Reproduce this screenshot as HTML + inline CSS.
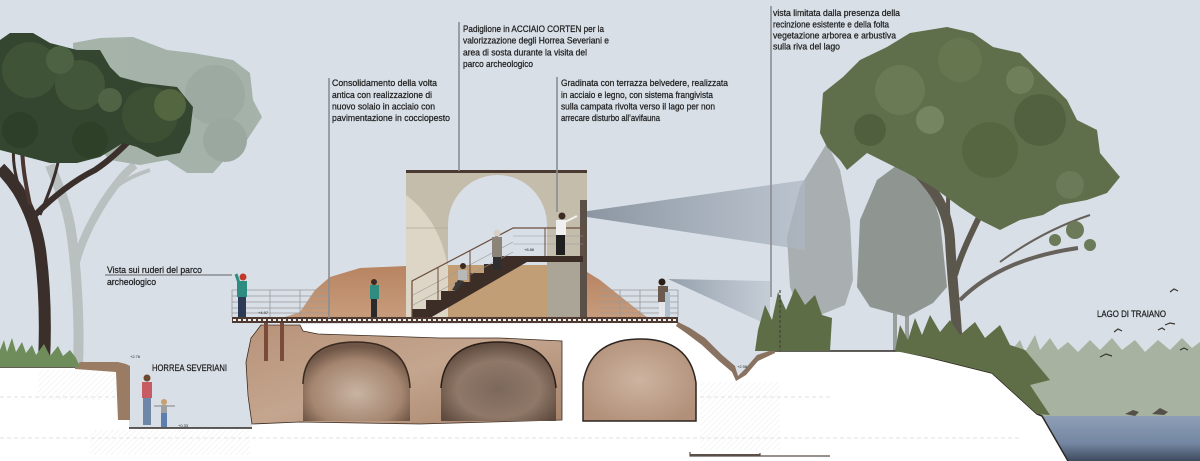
<!DOCTYPE html>
<html><head><meta charset="utf-8"><style>
html,body{margin:0;padding:0;background:#d8dfe7;}
svg{display:block;}
text{font-family:"Liberation Sans",sans-serif;fill:#1e1e1e;}
</style></head><body>
<svg width="1200" height="461" viewBox="0 0 1200 461" xmlns="http://www.w3.org/2000/svg">
<defs>
<linearGradient id="water" x1="0" y1="0" x2="0" y2="1"><stop offset="0" stop-color="#8e9fb6"/><stop offset="0.6" stop-color="#7487a2"/><stop offset="1" stop-color="#3e4a5e"/></linearGradient>
<linearGradient id="brick" x1="0" y1="0" x2="1" y2="1"><stop offset="0" stop-color="#b8937a"/><stop offset="0.5" stop-color="#c4a58e"/><stop offset="1" stop-color="#a6826a"/></linearGradient>
<radialGradient id="arch1" cx="0.5" cy="0.65" r="0.6"><stop offset="0" stop-color="#c8b4a2"/><stop offset="0.7" stop-color="#a58670"/><stop offset="1" stop-color="#6e5546"/></radialGradient>
<radialGradient id="arch2" cx="0.5" cy="0.6" r="0.6"><stop offset="0" stop-color="#7c685b"/><stop offset="0.6" stop-color="#8f7868"/><stop offset="1" stop-color="#5e4a3e"/></radialGradient>
<radialGradient id="arch3" cx="0.5" cy="0.5" r="0.6"><stop offset="0" stop-color="#cdb4a0"/><stop offset="1" stop-color="#b18f78"/></radialGradient>
<linearGradient id="mound" x1="0" y1="0" x2="0" y2="1"><stop offset="0" stop-color="#b88462"/><stop offset="1" stop-color="#c79c7c"/></linearGradient>
<linearGradient id="cone1" x1="0" y1="0" x2="1" y2="0"><stop offset="0" stop-color="#7d8895" stop-opacity="0.9"/><stop offset="1" stop-color="#aeb8c3" stop-opacity="0.7"/></linearGradient>
<linearGradient id="cone2" x1="0" y1="0" x2="1" y2="0"><stop offset="0" stop-color="#8a96a3" stop-opacity="0.9"/><stop offset="1" stop-color="#b7c0ca" stop-opacity="0.6"/></linearGradient>
<pattern id="hatch" width="4" height="4" patternUnits="userSpaceOnUse" patternTransform="rotate(45)"><line x1="0" y1="0" x2="0" y2="4" stroke="#ececec" stroke-width="1"/></pattern>
</defs>

<rect width="1200" height="461" fill="#d8dfe7"/>

<!-- ghost pine -->
<g opacity="0.8">
<path d="M78,365 C80,320 76,260 70,225 C65,200 58,185 50,165" stroke="#b3b8b7" stroke-width="10" fill="none"/>
<path d="M76,262 C82,240 92,220 105,200 C115,185 125,172 135,165" stroke="#b3b8b7" stroke-width="8" fill="none"/>
<path d="M100,205 C110,190 120,180 150,170" stroke="#b3b8b7" stroke-width="4" fill="none"/>
<path d="M73,43 L100,38 L133,37 L167,50 L193,53 L233,60 L250,73 L253,100 L262,117 L247,140 L227,157 L213,173 L187,173 L167,160 L140,165 L110,160 L90,140 L75,100 Z" fill="#98a79a"/>
<circle cx="215" cy="95" r="30" fill="#8f9e90"/>
<circle cx="225" cy="140" r="22" fill="#8d9b8f"/>
</g>

<!-- dark pine trunks -->
<path d="M44,362 C46,320 44,280 40,250 C37,230 30,210 18,190 C10,178 4,172 0,168" stroke="#3a2f2a" stroke-width="12" fill="none"/>
<path d="M35,215 C55,195 75,180 95,170 C110,160 120,150 130,140" stroke="#3a2f2a" stroke-width="6" fill="none"/>
<path d="M30,205 C25,180 22,165 22,140" stroke="#4a3530" stroke-width="4" fill="none"/>
<path d="M40,215 C50,190 58,170 60,150" stroke="#3a2f2a" stroke-width="3" fill="none"/>
<path d="M20,190 C15,175 12,160 14,145" stroke="#3a2f2a" stroke-width="3" fill="none"/>
<!-- dark pine canopy -->
<path d="M0,40 L10,33 L33,33 L50,43 L77,50 L100,50 L110,67 L120,77 L143,83 L177,87 L193,107 L190,133 L180,153 L157,157 L137,147 L123,143 L100,157 L77,163 L50,163 L27,157 L0,150 Z" fill="#34462f"/>
<circle cx="30" cy="70" r="28" fill="#3f5337"/>
<circle cx="80" cy="85" r="25" fill="#425639"/>
<circle cx="150" cy="115" r="28" fill="#3d5034"/>
<circle cx="170" cy="105" r="16" fill="#53663f"/>
<circle cx="60" cy="60" r="14" fill="#4d6242"/>
<circle cx="110" cy="100" r="12" fill="#506445"/>
<circle cx="20" cy="130" r="18" fill="#2e3f29"/>
<circle cx="90" cy="140" r="18" fill="#2f4029"/>

<!-- right ghost trees -->
<path d="M827,143 L840,170 L850,220 L853,280 L845,305 L803,322 L790,287 L787,237 L800,187 Z" fill="#a9afb1"/>
<path d="M893,310 h4 v41 h-4z M905,310 h4 v41 h-4z" fill="#9a9e9a"/>
<path d="M860,220 L877,180 L900,163 L927,177 L940,220 L947,287 L933,303 L907,317 L870,307 L857,287 Z" fill="#8f9692"/>

<!-- main right tree -->
<path d="M958,350 C956,310 952,280 950,240 C948,210 935,190 915,170" stroke="#5c574d" stroke-width="10" fill="none"/>
<path d="M955,275 C965,240 985,210 1000,170" stroke="#5c574d" stroke-width="6" fill="none"/>
<path d="M960,300 C990,270 1030,255 1078,248" stroke="#66615a" stroke-width="4" fill="none"/>
<path d="M1000,262 C1030,240 1060,225 1090,215" stroke="#66615a" stroke-width="2" fill="none"/>
<path d="M950,240 C945,200 950,150 960,110" stroke="#5c574d" stroke-width="4" fill="none"/>
<path d="M820,133 L823,93 L843,77 L860,60 L887,47 L910,33 L947,27 L973,33 L993,47 L1020,53 L1047,80 L1067,100 L1077,120 L1097,130 L1100,153 L1120,177 L1107,193 L1087,200 L1060,205 L1043,215 L1020,220 L1000,230 L980,220 L960,207 L933,187 L907,173 L887,163 L867,153 L847,170 L840,160 L827,147 Z" fill="#5f6f4b"/>
<circle cx="1075" cy="230" r="9" fill="#6b7a58"/>
<circle cx="1090" cy="245" r="6" fill="#6b7a58"/>
<circle cx="1055" cy="240" r="6" fill="#6b7a58"/>
<circle cx="900" cy="90" r="25" fill="#6a7a55"/>
<circle cx="960" cy="60" r="22" fill="#66764f"/>
<circle cx="1040" cy="120" r="26" fill="#52613f"/>
<circle cx="990" cy="150" r="28" fill="#566641"/>
<circle cx="870" cy="130" r="16" fill="#505f3e"/>
<circle cx="1070" cy="185" r="14" fill="#6b7a58"/>
<circle cx="930" cy="120" r="14" fill="#758461"/>
<circle cx="1020" cy="80" r="14" fill="#6f7f5a"/>

<!-- lake reeds -->
<path d="M1010,417 L1010,352 L1020,340 L1025,352 L1035,335 L1040,350 L1050,338 L1058,350 L1068,342 L1078,352 L1090,340 L1100,350 L1112,338 L1122,350 L1135,340 L1145,352 L1158,340 L1170,350 L1182,338 L1192,348 L1200,342 L1200,417 Z" fill="#a8b2a0"/>
<rect x="1020" y="416" width="180" height="45" fill="url(#water)"/>

<!-- cones -->
<polygon points="567,214 805,180 805,250" fill="url(#cone1)"/>
<polygon points="668,279 770,281 770,326" fill="url(#cone2)"/>

<!-- brick mound -->
<path d="M282,318 L300,312 L315,290 L330,277 L360,268 L406,266 L406,318 Z" fill="url(#mound)"/>
<path d="M587,272 L600,280 L625,300 L648,318 L587,318 Z" fill="url(#mound)"/>

<!-- pavilion -->
<rect x="406" y="170" width="181" height="148" fill="#c5bdac"/>
<path d="M406,195 Q440,220 448,268 L448,318 L406,318 Z" fill="#ddd5c5"/>
<path d="M448,265 L448,225 A49.5,50 0 0 1 547,225 L547,265 Z" fill="#d8dfe7"/>
<rect x="448" y="265" width="99" height="53" fill="#c7a57c"/>
<rect x="448" y="265" width="99" height="53" fill="#a07850" opacity="0.15"/>
<rect x="547" y="262" width="36" height="56" fill="#aaa597"/>
<rect x="580" y="200" width="7" height="118" fill="#5a5048"/>
<rect x="406" y="170" width="181" height="3" fill="#4a3a30"/>
<line x1="406" y1="228" x2="448" y2="228" stroke="#b0a898" stroke-width="0.8"/>
<!-- stairs -->
<path d="M412,318 L412,309 L426,309 L426,300 L441,300 L441,291 L455,291 L455,282 L470,282 L470,273 L484,273 L484,264 L499,264 L499,256 L583,256 L583,262 L527,262 L430,318 Z" fill="#3c2d27"/>
<path d="M412,318 L412,281 L513,228 L583,228 L583,256" stroke="#6b4d3b" stroke-width="1.2" fill="none"/>
<path d="M413,295 L513,242 M413,305 L513,252 M513,236 L583,236 M513,244 L583,244" stroke="#9a9a9a" stroke-width="0.6" fill="none"/>
<path d="M438,267 L438,300 M470,250 L470,282 M496,237 L496,264 M545,228 L545,256" stroke="#6b4d3b" stroke-width="1" fill="none"/>

<!-- section ground -->
<path d="M0,367 L75,367 L118,365 L129,367 L129,428 L252,428 L252,422 L247,395 L246,360 L252,335 L262,324 L678,323 L690,330 L705,341 L722,358 L735,370 L738,378 L745,372 L757,358 L775,351 L900,351 L928,357 L992,373 L1037,414 L1042,416 L1068,461 L0,461 Z" fill="#ffffff"/>
<rect x="38" y="370" width="78" height="30" fill="url(#hatch)"/>
<rect x="90" y="430" width="160" height="25" fill="url(#hatch)"/>
<rect x="700" y="382" width="80" height="68" fill="url(#hatch)"/>
<path d="M0,397 H116 M0,438 H1020 M700,397 H830" stroke="#e2e2e2" stroke-width="1" stroke-dasharray="4 3"/>
<path d="M0,367 L75,367 M129,428 L252,428 M757,358 L775,351 L900,351 L928,357 L992,373 L1037,414 L1042,416 L1068,461" stroke="#2e2824" stroke-width="1.5" fill="none"/>

<!-- rubble -->
<path d="M75,367 L80,362 L118,362 L126,364 L130,366 L130,420 L118,420 L116,372 L75,369 Z" fill="#9a7c65"/>
<path d="M678,322 L690,328 L705,338 L722,355 L735,366 L738,376 L745,369 L757,355 L775,349 L775,353 L758,361 L746,375 L736,381 L732,372 L719,361 L702,345 L686,333 L676,326 Z" fill="#8a7260"/>

<!-- ruins -->
<path d="M252,424 L248,396 L246,362 L251,338 L261,325 L300,325 L303,331 L318,334 L380,336 L440,338 L500,338 L562,341 L562,420 L420,424 L300,422 Z" fill="url(#brick)" stroke="#3a2a20" stroke-width="0.8"/>
<path d="M303,421 L303,384 Q304,342 356,342 Q408,342 410,388 L410,421 Z" fill="url(#arch1)"/>
<path d="M303,384 Q304,342 356,342 Q408,342 410,388" stroke="#3a2a20" stroke-width="1.5" fill="none"/>
<path d="M441,421 L441,388 Q444,342 498,342 Q552,342 556,388 L556,421 Z" fill="url(#arch2)"/>
<path d="M441,388 Q444,342 498,342 Q552,342 556,388" stroke="#2a1e18" stroke-width="1.5" fill="none"/>
<path d="M583,421 L583,383 Q590,339 640,339 Q690,339 696,383 L696,421 Z" fill="url(#arch3)" stroke="#2d2520" stroke-width="1.5"/>
<rect x="264" y="323" width="4" height="38" fill="#7a4a3a"/>
<rect x="280" y="323" width="4" height="38" fill="#7a4a3a"/>

<!-- deck -->
<rect x="232" y="317" width="446" height="6" fill="#4e3a30"/>
<line x1="233" y1="320" x2="677" y2="320" stroke="#f2f2f2" stroke-width="2" stroke-dasharray="3 2"/>
<!-- railings -->
<g stroke="#9a9a9a" stroke-width="0.8" fill="none">
<path d="M232,290 H330 M232,296 H330 M232,302 H330 M232,308 H330 M232,313 H330"/>
<path d="M600,290 H678 M600,296 H678 M600,302 H678 M600,308 H678 M600,313 H678"/>
<path d="M232,290 V317 M270,290 V317 M300,290 V317 M640,290 V317 M678,290 V317 M620,290 V317"/>
</g>

<!-- people -->
<g>
<rect x="238" y="297" width="8" height="20" fill="#2d3a55"/>
<rect x="237" y="281" width="10" height="16" fill="#2f8c80"/>
<line x1="239" y1="283" x2="236" y2="274" stroke="#2f8c80" stroke-width="3"/>
<circle cx="243" cy="277" r="3.5" fill="#c0392b"/>
<rect x="371" y="299" width="6" height="18" fill="#2a2a2a"/>
<rect x="370" y="285" width="9" height="14" fill="#2f8c80"/>
<circle cx="374" cy="282" r="3" fill="#3a2a22"/>
<path d="M458,270 h9 v10 h-9z" fill="#b8b8b8"/>
<path d="M458,280 L452,290 L456,291 L464,281Z" fill="#3a3a3a"/>
<circle cx="463" cy="266" r="3" fill="#3a2a22"/>
<rect x="493" y="257" width="8" height="13" fill="#2e2e2e"/>
<rect x="492" y="237" width="10" height="20" fill="#8c8478"/>
<circle cx="497" cy="233" r="3.5" fill="#d8d0c8"/>
<rect x="556" y="235" width="9" height="20" fill="#1f1f1f"/>
<rect x="556" y="220" width="10" height="15" fill="#f0f0f0"/>
<line x1="565" y1="222" x2="577" y2="216" stroke="#f0f0f0" stroke-width="2"/>
<circle cx="562" cy="216" r="3.5" fill="#3a2a22"/>
<rect x="659" y="302" width="7" height="15" fill="#e6e6ea"/>
<rect x="658" y="286" width="10" height="16" fill="#6b5a4e"/>
<circle cx="662" cy="282" r="3.5" fill="#2a1e18"/>
<rect x="665" y="292" width="5" height="25" fill="#aebfce"/>
<rect x="143" y="398" width="8" height="27" fill="#6e87a8"/>
<rect x="142" y="382" width="10" height="16" fill="#c85a63"/>
<circle cx="147" cy="378" r="3.5" fill="#6b4a30"/>
<rect x="161" y="413" width="6" height="14" fill="#5d7fb0"/>
<rect x="161" y="405" width="6" height="8" fill="#a0a0a0"/>
<line x1="154" y1="406" x2="175" y2="406" stroke="#a0a0a0" stroke-width="1.5"/>
<circle cx="164" cy="402" r="3" fill="#c8a070"/>
</g>

<!-- grass / shrubs -->
<path d="M0,367 L0,350 L4,340 L7,352 L12,338 L16,352 L22,342 L26,353 L32,345 L36,355 L44,344 L50,356 L58,346 L63,356 L70,350 L76,358 L80,367 Z" fill="#6f8d5a"/>
<path d="M755,351 L758,330 L765,305 L772,320 L778,292 L786,310 L795,288 L805,305 L815,295 L822,315 L832,318 L830,351 Z" fill="#5d6e46"/>
<path d="M895,351 L900,325 L908,340 L915,318 L922,335 L930,315 L940,332 L950,320 L960,335 L975,322 L985,338 L1000,325 L1010,345 L1025,350 L1050,380 L1030,385 L1050,415 L1037,414 L992,373 L928,357 Z" fill="#5f6e47"/>

<!-- birds -->
<g stroke="#3a3530" stroke-width="1.2" fill="none">
<path d="M1100,357 l6,-3 l6,2 M1114,332 l4,-3 l4,2 M1170,292 l4,-3 l4,2 M1158,330 l4,-2 l3,2 M1165,325 l5,-2 l5,1 M1180,350 l4,-2 l4,2"/>
</g>
<path d="M1125,414 l8,-4 l6,2 l-4,4 Z M1152,414 l8,-6 l8,4 l-4,3 Z" fill="#55504a"/>

<!-- scale bar -->
<path d="M690,452 V456 H830 M760,453 V456" stroke="#5a4e46" stroke-width="1.2" fill="none"/>
<rect x="690" y="454" width="70" height="2" fill="#5a4e46"/>
<line x1="780" y1="290" x2="780" y2="351" stroke="#444" stroke-width="1.2" stroke-dasharray="3 2"/>

<!-- leader lines -->
<g stroke="#8a8d91" stroke-width="1.6" fill="none">
<line x1="329" y1="78" x2="329" y2="318"/>
<line x1="459" y1="22" x2="459" y2="171"/>
<line x1="557" y1="77" x2="557" y2="212"/>
<line x1="771" y1="6" x2="771" y2="297"/>
<line x1="105" y1="275" x2="232" y2="275"/>
</g>

<!-- texts -->
<g font-size="9.5" stroke="#1e1e1e" stroke-width="0.25">
<text x="463" y="32" textLength="141" lengthAdjust="spacingAndGlyphs">Padiglione in ACCIAIO CORTEN per la</text>
<text x="463" y="43.7" textLength="146" lengthAdjust="spacingAndGlyphs">valorizzazione degli Horrea Severiani e</text>
<text x="463" y="55.4" textLength="124" lengthAdjust="spacingAndGlyphs">area di sosta durante la visita del</text>
<text x="463" y="67.1" textLength="70" lengthAdjust="spacingAndGlyphs">parco archeologico</text>
<text x="332" y="86" textLength="105" lengthAdjust="spacingAndGlyphs">Consolidamento della volta</text>
<text x="332" y="98" textLength="100" lengthAdjust="spacingAndGlyphs">antica con realizzazione di</text>
<text x="332" y="109.5" textLength="103" lengthAdjust="spacingAndGlyphs">nuovo solaio in acciaio con</text>
<text x="332" y="121" textLength="118" lengthAdjust="spacingAndGlyphs">pavimentazione in cocciopesto</text>
<text x="561" y="86" textLength="167" lengthAdjust="spacingAndGlyphs">Gradinata con terrazza belvedere, realizzata</text>
<text x="561" y="98" textLength="152" lengthAdjust="spacingAndGlyphs">in acciaio e legno, con sistema frangivista</text>
<text x="561" y="109.5" textLength="154" lengthAdjust="spacingAndGlyphs">sulla campata rivolta verso il lago per non</text>
<text x="561" y="121" textLength="99" lengthAdjust="spacingAndGlyphs">arrecare disturbo all’avifauna</text>
<text x="773" y="16" textLength="127" lengthAdjust="spacingAndGlyphs">vista limitata dalla presenza della</text>
<text x="773" y="27.5" textLength="116" lengthAdjust="spacingAndGlyphs">recinzione esistente e della folta</text>
<text x="773" y="38.5" textLength="123" lengthAdjust="spacingAndGlyphs">vegetazione arborea e arbustiva</text>
<text x="773" y="49.5" textLength="67" lengthAdjust="spacingAndGlyphs">sulla riva del lago</text>
<text x="107" y="273" textLength="95" lengthAdjust="spacingAndGlyphs">Vista sui ruderi del parco</text>
<text x="107" y="285" textLength="49" lengthAdjust="spacingAndGlyphs">archeologico</text>
<text x="152" y="371" textLength="75" lengthAdjust="spacingAndGlyphs">HORREA SEVERIANI</text>
<text x="1097" y="317" textLength="69" lengthAdjust="spacingAndGlyphs">LAGO DI TRAIANO</text>
</g>
<g font-size="4">
<text x="258" y="314">+4.97</text>
<text x="130" y="358">+2.76</text>
<text x="178" y="427">+0.33</text>
<text x="524" y="251">+8.86</text>
<text x="737" y="368">+2.98</text>
</g>
</svg>
</body></html>
